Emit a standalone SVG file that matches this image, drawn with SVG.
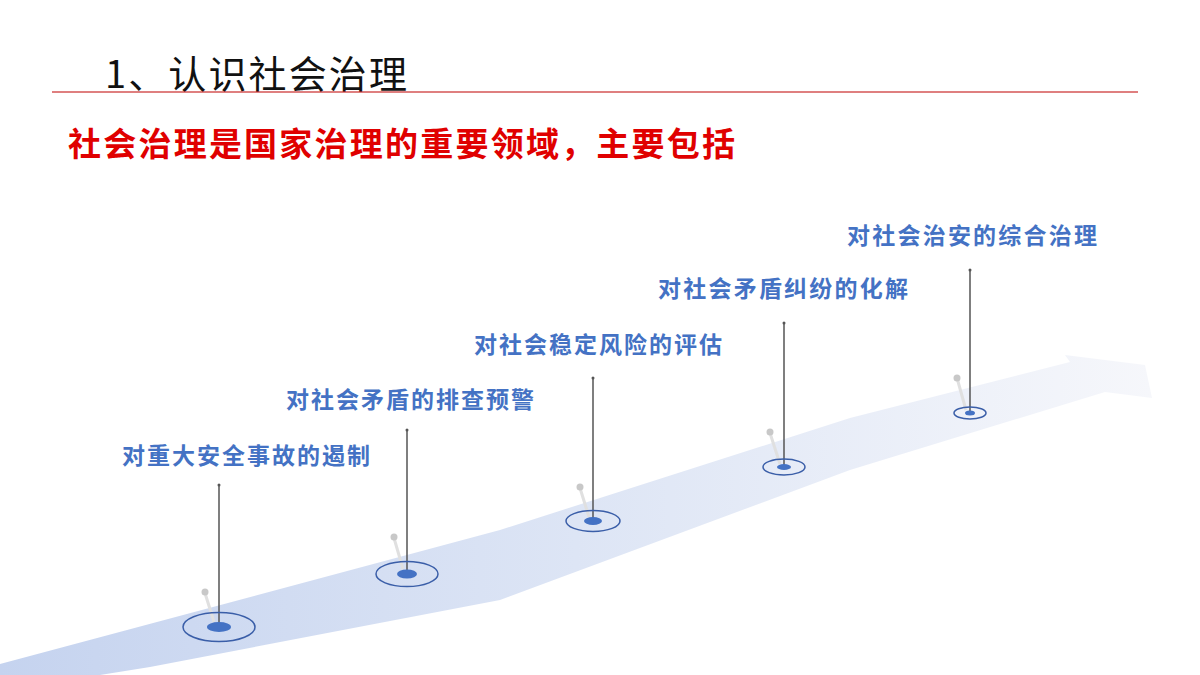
<svg xmlns="http://www.w3.org/2000/svg" width="1200" height="675" viewBox="0 0 1200 675">
<defs>
<linearGradient id="road" x1="0" y1="0" x2="1" y2="0">
<stop offset="0" stop-color="#c5d3ef"/>
<stop offset="0.5" stop-color="#dde5f5"/>
<stop offset="1" stop-color="#f6f7fb"/>
</linearGradient>
<style>
.lbl{font-family:"Noto Sans CJK SC",sans-serif;font-weight:bold;font-size:23px;fill:#4472c4}
.stem{stroke:#555;stroke-width:1.5}
.ring{fill:none;stroke:#3a5ea8;stroke-width:1.5}
.dot{fill:#4472c4}
.sh{stroke:#e0e0e0;stroke-width:3}
.shd{fill:#c8c8c8}
</style>
</defs>
<rect width="1200" height="675" fill="#fff"/>
<text x="105" y="88" font-family="Noto Sans CJK SC,sans-serif" font-size="38" fill="#111" textLength="302">1、认识社会治理</text>
<line x1="52" y1="92" x2="1138" y2="92" stroke="#c00000" stroke-width="1.2"/>
<text x="68" y="156" font-family="Noto Sans CJK SC,sans-serif" font-weight="bold" font-size="33" fill="#e00000" textLength="667">社会治理是国家治理的重要领域，主要包括</text>
<polygon points="0,664 500,530 850,418 1070,362 1065,355 1145,365 1152,398 1105,392 850,470 500,600 150,667 100,675 0,675" fill="url(#road)"/>
<g id="connectors">
<line class="sh" x1="205" y1="593" x2="214" y2="622"/>
<line class="sh" x1="394" y1="538" x2="403" y2="569"/>
<line class="sh" x1="580" y1="488" x2="589" y2="517"/>
<line class="sh" x1="770" y1="433" x2="780" y2="464"/>
<line class="sh" x1="957" y1="378" x2="966" y2="410"/>
</g>
<g id="m1"><circle class="shd" cx="205" cy="592" r="3.5"/><line class="stem" x1="219" y1="485" x2="219" y2="627"/><circle cx="219" cy="485" r="1.5" fill="#555"/><ellipse class="ring" cx="219" cy="627" rx="36" ry="14.5"/><ellipse class="dot" cx="219" cy="627" rx="12" ry="5"/><text class="lbl" x="122" y="464" textLength="248">对重大安全事故的遏制</text></g>
<g id="m2"><circle class="shd" cx="394" cy="537" r="3.5"/><line class="stem" x1="407" y1="430" x2="407" y2="574"/><circle cx="407" cy="430" r="1.5" fill="#555"/><ellipse class="ring" cx="407" cy="574" rx="31" ry="12.5"/><ellipse class="dot" cx="407" cy="574" rx="10" ry="4.5"/><text class="lbl" x="286" y="408" textLength="248">对社会矛盾的排查预警</text></g>
<g id="m3"><circle class="shd" cx="580" cy="487" r="3.5"/><line class="stem" x1="593" y1="378" x2="593" y2="521"/><circle cx="593" cy="378" r="1.5" fill="#555"/><ellipse class="ring" cx="593" cy="521" rx="27" ry="10.5"/><ellipse class="dot" cx="593" cy="521" rx="9" ry="4"/><text class="lbl" x="474" y="353" textLength="248">对社会稳定风险的评估</text></g>
<g id="m4"><circle class="shd" cx="770" cy="432" r="3.5"/><line class="stem" x1="784" y1="323" x2="784" y2="467"/><circle cx="784" cy="323" r="1.5" fill="#555"/><ellipse class="ring" cx="784" cy="467" rx="21" ry="8"/><ellipse class="dot" cx="784" cy="467" rx="7" ry="3"/><text class="lbl" x="658" y="297" textLength="250">对社会矛盾纠纷的化解</text></g>
<g id="m5"><circle class="shd" cx="957" cy="378" r="3.5"/><line class="stem" x1="970" y1="270" x2="970" y2="413"/><circle cx="970" cy="270" r="1.5" fill="#555"/><ellipse class="ring" cx="970" cy="413" rx="16" ry="6"/><ellipse class="dot" cx="970" cy="413" rx="5" ry="2.5"/><text class="lbl" x="847" y="244" textLength="250">对社会治安的综合治理</text></g>
</svg>
